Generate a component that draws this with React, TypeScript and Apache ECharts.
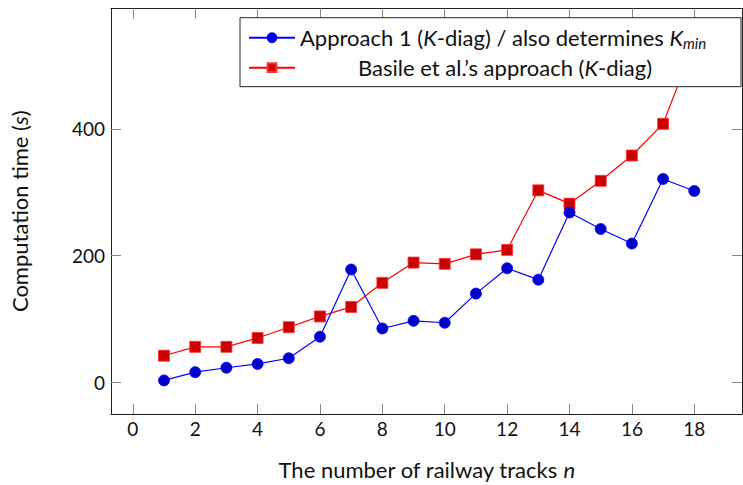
import React, { useEffect, useRef } from "react";
import * as echarts from "echarts";

const nValues = [1, 2, 3, 4, 5, 6, 7, 8, 9, 10, 11, 12, 13, 14, 15, 16, 17, 18];
const approach1 = [3, 16, 23, 29, 38, 72, 178, 85, 97, 94, 140, 180, 162, 268, 242, 219, 321, 302];
const basile = [42, 56, 56, 70, 87, 104, 119, 157, 189, 187, 202, 209, 303, 282, 318, 358, 408, 535];
const xTicks = [0, 2, 4, 6, 8, 10, 12, 14, 16, 18];
const yTicks = [0, 200, 400];

const FONT = "Lato";

export default function App() {
  const ref = useRef<HTMLDivElement>(null);
  useEffect(() => {
    if (!ref.current) return;
    const chart = echarts.init(ref.current, undefined, { renderer: "svg" });
    const axisLine = { show: true, onZero: false, lineStyle: { color: "#222", width: 1 } };
    const tick = (vals: number[]) => ({
      show: true,
      inside: true,
      length: 10,
      customValues: vals,
      lineStyle: { color: "#888", width: 1 },
    });
    const rich = {
      r: { fontFamily: FONT, fontSize: 22, color: "#111" },
      i: { fontFamily: FONT, fontSize: 22, fontStyle: "italic", color: "#111" },
      sub: { fontFamily: FONT, fontSize: 15, fontStyle: "italic", color: "#111", padding: [10, 0, 0, 0] },
      pad: { fontFamily: FONT, fontSize: 22, width: 58 },
    };
    chart.setOption({
      animation: false,
      backgroundColor: "#fff",
      grid: { left: 111, right: 1, top: 8.5, bottom: 67.3, containLabel: false },
      xAxis: [
        {
          type: "value",
          min: -0.7,
          max: 19.53,
          position: "bottom",
          axisLine,
          axisTick: tick(xTicks),
          axisLabel: { customValues: xTicks, fontFamily: FONT, fontSize: 19, color: "#111", margin: 5 },
          splitLine: { show: false },
          name: "The number of railway tracks {i|n}",
          nameLocation: "middle",
          nameGap: 44,
          nameTextStyle: { fontFamily: FONT, fontSize: 22, color: "#111", rich },
        },
        {
          type: "value",
          min: -0.7,
          max: 19.53,
          position: "top",
          axisLine,
          axisTick: tick(xTicks),
          axisLabel: { show: false },
          splitLine: { show: false },
        },
      ],
      yAxis: [
        {
          type: "value",
          min: -50,
          max: 590,
          position: "left",
          axisLine,
          axisTick: tick(yTicks),
          axisLabel: { customValues: yTicks, fontFamily: FONT, fontSize: 19, color: "#111", margin: 6 },
          splitLine: { show: false },
          name: "Computation time ({i|s})",
          nameLocation: "middle",
          nameGap: 81,
          nameTextStyle: { fontFamily: FONT, fontSize: 22, color: "#111", rich },
        },
        {
          type: "value",
          min: -50,
          max: 590,
          position: "right",
          axisLine,
          axisTick: tick(yTicks),
          axisLabel: { show: false },
          splitLine: { show: false },
        },
      ],
      legend: {
        left: 240,
        top: 17.7,
        orient: "vertical",
        backgroundColor: "#fff",
        borderColor: "#222",
        borderWidth: 1,
        borderRadius: 0,
        padding: [7, 7, 6, 8],
        itemGap: 4,
        itemWidth: 46,
        itemHeight: 11,
        z: 10,
        textStyle: { fontFamily: FONT, fontSize: 22, color: "#111", lineHeight: 26, width: 434, rich },
        formatter: (name: string) =>
          name === "approach1"
            ? "{r|Approach 1 (}{i|K}{r|-diag) / also determines }{i|K}{sub|min}"
            : "{pad| }{r|Basile et al.’s approach (}{i|K}{r|-diag)}",
      },
      series: [
        {
          name: "approach1",
          type: "line",
          data: nValues.map((n, k) => [n, approach1[k]]),
          symbol: "circle",
          symbolSize: 11,
          lineStyle: { color: "#0000ff", width: 1.2 },
          itemStyle: { color: "#0000cc", borderColor: "#0000ff", borderWidth: 0.8 },
          z: 3,
        },
        {
          name: "basile",
          type: "line",
          data: nValues.map((n, k) => [n, basile[k]]),
          symbol: "rect",
          symbolSize: 11,
          lineStyle: { color: "#ff0000", width: 1.2 },
          itemStyle: { color: "#cc0000", borderColor: "#ff3333", borderWidth: 0.8 },
          z: 2,
        },
      ],
    });
    return () => chart.dispose();
  }, []);
  return <div ref={ref} style={{ width: 743, height: 485, position: "absolute", left: 0, top: 0 }} />;
}
